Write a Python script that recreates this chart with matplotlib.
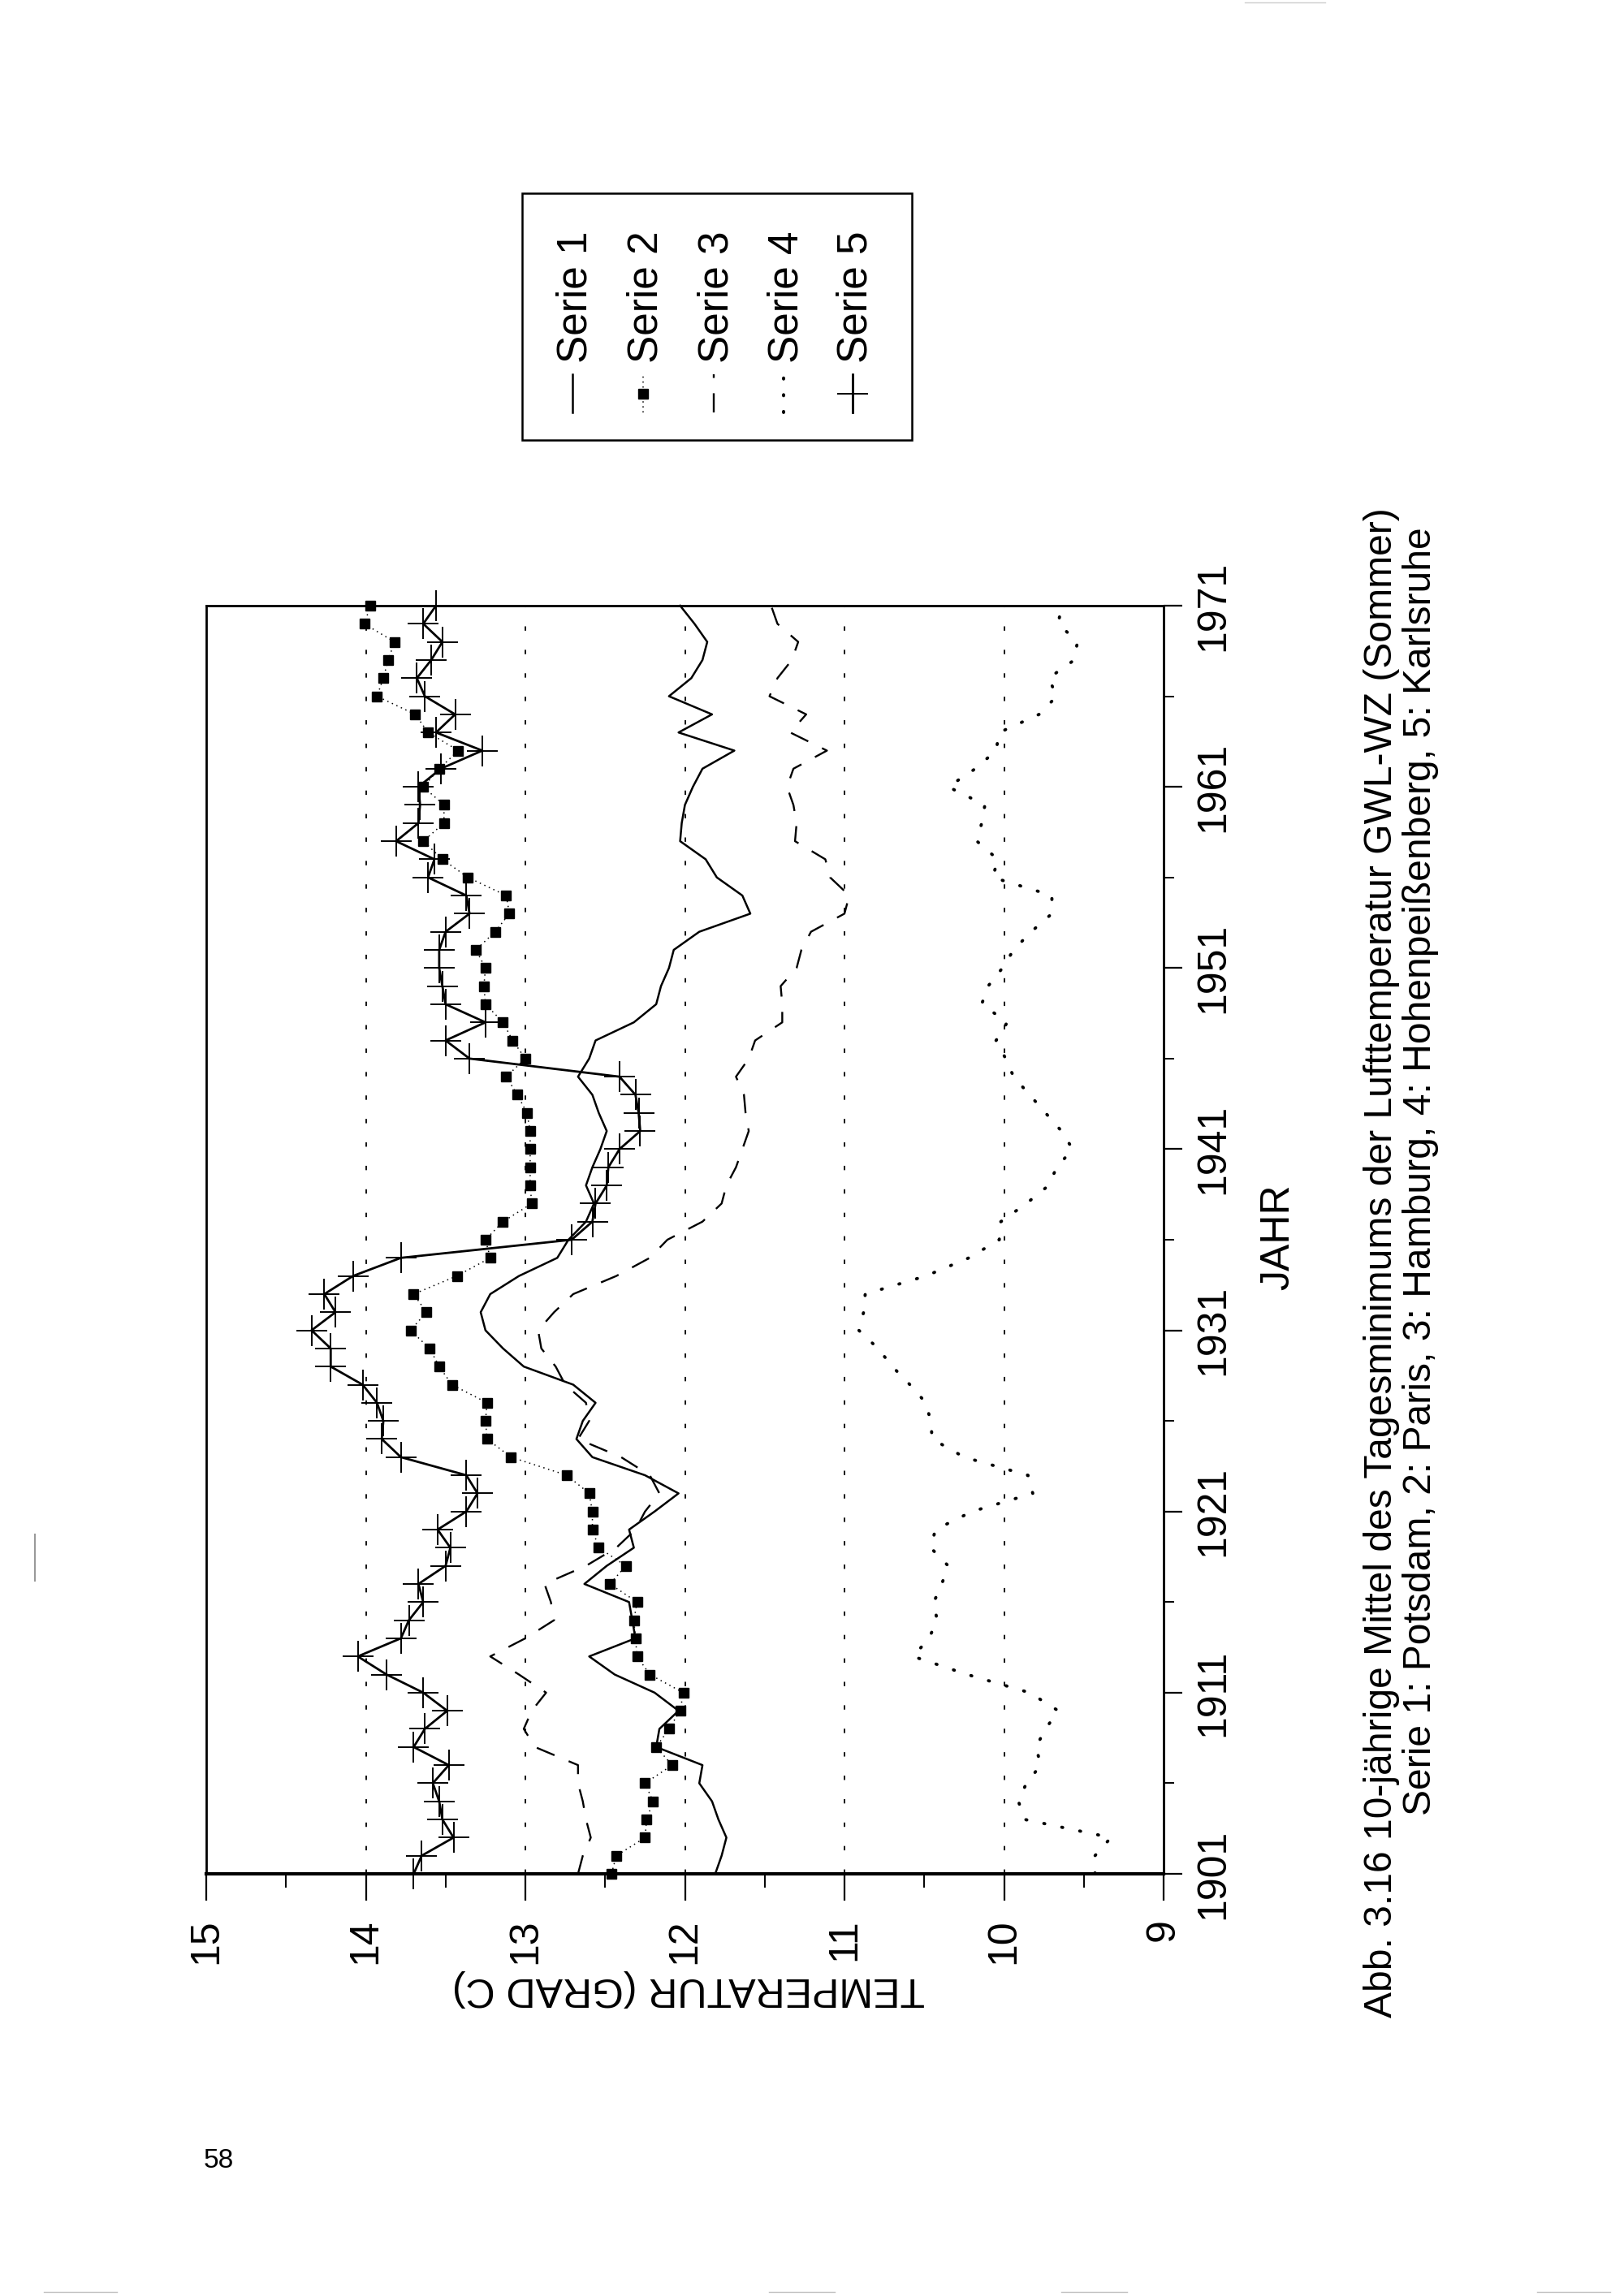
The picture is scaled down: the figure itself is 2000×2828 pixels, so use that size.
import matplotlib
matplotlib.use('Agg')
import matplotlib.pyplot as plt
import numpy as np
from matplotlib.lines import Line2D
from matplotlib.patches import Rectangle

# 10-year means of daily minimum air temperature, summer, 1901-1971
years = list(range(1901, 1972))

potsdam = [11.81, 11.77, 11.74, 11.79, 11.83, 11.91, 11.89, 12.18, 12.16, 12.04,
           12.19, 12.44, 12.60, 12.31, 12.33, 12.35, 12.63, 12.49, 12.32, 12.35,
           12.19, 12.04, 12.25, 12.58, 12.68, 12.64, 12.56, 12.70, 13.01, 13.14,
           13.25, 13.28, 13.22, 13.04, 12.80, 12.73, 12.62, 12.57, 12.62, 12.58,
           12.53, 12.49, 12.54, 12.58, 12.67, 12.60, 12.56, 12.32, 12.18, 12.15,
           12.10, 12.07, 11.91, 11.59, 11.64, 11.80, 11.87, 12.03, 12.02, 12.00,
           11.95, 11.89, 11.69, 12.04, 11.83, 12.10, 11.96, 11.89, 11.86, 11.94, 12.03]

paris = [12.46, 12.43, 12.25, 12.24, 12.20, 12.25, 12.08, 12.18, 12.10, 12.03,
         12.01, 12.22, 12.30, 12.31, 12.32, 12.30, 12.47, 12.37, 12.54, 12.58,
         12.58, 12.60, 12.74, 13.09, 13.24, 13.25, 13.24, 13.46, 13.54, 13.60,
         13.72, 13.62, 13.70, 13.43, 13.22, 13.25, 13.14, 12.96, 12.97, 12.97,
         12.97, 12.97, 12.99, 13.05, 13.12, 13.00, 13.08, 13.14, 13.25, 13.26,
         13.25, 13.31, 13.19, 13.10, 13.12, 13.36, 13.52, 13.64, 13.51, 13.51,
         13.64, 13.54, 13.42, 13.61, 13.69, 13.93, 13.89, 13.86, 13.82, 14.01, 13.97]

hamburg = [12.67, 12.64, 12.59, 12.62, 12.64, 12.67, 12.67, 12.94, 13.01, 12.96,
           12.87, 13.04, 13.22, 13.00, 12.82, 12.84, 12.88, 12.62, 12.43, 12.31,
           12.25, 12.16, 12.22, 12.40, 12.67, 12.60, 12.62, 12.75, 12.81, 12.90,
           12.92, 12.82, 12.70, 12.43, 12.22, 12.11, 11.89, 11.77, 11.74, 11.68,
           11.64, 11.60, 11.62, 11.63, 11.68, 11.60, 11.56, 11.39, 11.39, 11.40,
           11.30, 11.27, 11.21, 11.00, 10.97, 11.09, 11.12, 11.31, 11.30, 11.32,
           11.36, 11.32, 11.11, 11.34, 11.24, 11.47, 11.42, 11.33, 11.29, 11.42, 11.46]

hohenpeissenberg = [9.43, 9.43, 9.33, 9.87, 9.91, 9.86, 9.77, 9.80, 9.74, 9.66,
                    9.84, 10.23, 10.57, 10.47, 10.42, 10.44, 10.39, 10.35, 10.46, 10.43,
                    10.20, 9.82, 9.85, 10.25, 10.45, 10.46, 10.49, 10.59, 10.70, 10.79,
                    10.91, 10.88, 10.87, 10.49, 10.22, 10.03, 10.02, 9.86, 9.72, 9.67,
                    9.57, 9.64, 9.74, 9.84, 9.94, 9.99, 10.05, 9.98, 10.14, 10.10,
                    10.01, 9.94, 9.83, 9.70, 9.70, 10.07, 10.04, 10.17, 10.14, 10.12,
                    10.35, 10.18, 10.05, 10.03, 9.78, 9.67, 9.72, 9.56, 9.54, 9.66, 9.64]

karlsruhe = [13.70, 13.65, 13.45, 13.52, 13.54, 13.58, 13.48, 13.70, 13.63, 13.49,
             13.64, 13.87, 14.05, 13.78, 13.73, 13.64, 13.67, 13.50, 13.47, 13.55,
             13.37, 13.30, 13.37, 13.78, 13.90, 13.89, 13.93, 14.02, 14.22, 14.22,
             14.34, 14.19, 14.26, 14.08, 13.78, 12.71, 12.58, 12.56, 12.49, 12.48,
             12.41, 12.28, 12.29, 12.31, 12.41, 13.35, 13.50, 13.25, 13.50, 13.52,
             13.54, 13.54, 13.50, 13.35, 13.37, 13.61, 13.57, 13.81, 13.67, 13.66,
             13.67, 13.53, 13.27, 13.56, 13.44, 13.63, 13.68, 13.59, 13.52, 13.64, 13.56]

temp_ticks = [15, 14, 13, 12, 11, 10, 9]
year_ticks = [1901, 1911, 1921, 1931, 1941, 1951, 1961, 1971]
legend_labels = ['Serie 1', 'Serie 2', 'Serie 3', 'Serie 4', 'Serie 5']
x_label = 'TEMPERATUR (GRAD C)'
y_label = 'JAHR'
caption_1 = 'Abb. 3.16 10-jährige Mittel des Tagesminimums der Lufttemperatur GWL-WZ (Sommer)'
caption_2 = 'Serie 1: Potsdam, 2: Paris, 3: Hamburg, 4: Hohenpeißenberg, 5: Karlsruhe'
page_number = '58'

W, H = 2000, 2828
plt.rcParams['font.family'] = ['Liberation Sans', 'DejaVu Sans']


def fx(x):
    return x / W


def fy(y):
    return 1 - y / H


# line styles of the five series
styles = [
    dict(color='k', lw=1.8, ls='-'),
    dict(color='k', lw=1.1, ls=(0, (1, 3)), marker='s', ms=8.5, mec='k', mfc='k'),
    dict(color='k', lw=1.7, ls=(0, (10, 8))),
    dict(color='k', lw=2.8, ls=(0, (0.3, 5.5)), dash_capstyle='round'),
    dict(color='k', lw=2.0, ls='-', marker='+', ms=28, mew=1.4),
]
series = [potsdam, paris, hamburg, hohenpeissenberg, karlsruhe]

fig = plt.figure(figsize=(20, 28.28), dpi=100)
fig.patch.set_facecolor('white')

# page is printed rotated: temperature runs along x (reversed), years along y
ax = fig.add_axes([fx(254), fy(2308), (1433 - 254) / W, (2308 - 746) / H])
for values, st in zip(series, styles):
    ax.plot(values, years, clip_on=False, **st)

ax.set_xlim(15, 9)
ax.set_ylim(1901, 1971)
ax.grid(axis='x', which='major', color='k', lw=1.3, ls=(0, (3, 13)))

ax.set_xticks(temp_ticks)
ax.set_xticklabels([str(t) for t in temp_ticks])
ax.set_xticks(np.arange(9.5, 15, 1.0), minor=True)
ax.yaxis.tick_right()
ax.set_yticks(year_ticks)
ax.set_yticklabels([str(y) for y in year_ticks])
ax.set_yticks(range(1906, 1967, 10), minor=True)

ax.tick_params(axis='x', which='major', direction='out', length=24, width=1.6, pad=16, labelsize=36)
ax.tick_params(axis='x', which='minor', direction='out', length=12, width=1.4)
ax.tick_params(axis='y', which='major', direction='out', length=16.5, width=1.6, pad=11,
               labelsize=36, right=True, left=False)
ax.tick_params(axis='y', which='minor', direction='out', length=9.5, width=1.4, right=True, left=False)
for lab in ax.get_xticklabels():
    lab.set_rotation(90)
    lab.set_ha('center')
    lab.set_va('top')
for lab in ax.get_yticklabels():
    lab.set_rotation(90)
    lab.set_ha('left')
    lab.set_va('center')

for side in ['left', 'right', 'top']:
    ax.spines[side].set_linewidth(2.0)
ax.spines['bottom'].set_linewidth(3.0)

# axis titles and caption
fig.text(fx(848), fy(2449), x_label, rotation=180, ha='center', va='center', fontsize=36)
fig.text(fx(1574), fy(1524), y_label, rotation=90, ha='center', va='center', fontsize=36)
fig.text(fx(1702), fy(2485), caption_1, rotation=90, ha='center', va='bottom', fontsize=34.6)
fig.text(fx(1749), fy(2236), caption_2, rotation=90, ha='center', va='bottom', fontsize=34.6)
fig.text(fx(269), fy(2661), page_number, ha='center', va='center', fontsize=24)

# legend, drawn rotated like the rest of the page
fig.add_artist(Rectangle((fx(643), fy(542)), (1123 - 643) / W, (542 - 238) / H,
                         fill=False, lw=1.8, ec='k', transform=fig.transFigure))
entry_x = [709, 796, 883, 969, 1054]
for i, (x, label, st) in enumerate(zip(entry_x, legend_labels, styles)):
    fig.text(fx(x), fy(447), label, rotation=90, ha='center', va='bottom', fontsize=37)
    sample = dict(st)
    if 'marker' in sample:
        sample['markevery'] = [1]
        if sample['marker'] == '+':
            sample['ms'] = 27
    if i == 3:
        sample['ls'] = (0, (0.3, 5.0))
    fig.add_artist(Line2D([fx(x - 4)] * 3, [fy(508), fy(485), fy(461)],
                          transform=fig.transFigure, **sample))

# scan marks at the page edges
fig.add_artist(Line2D([fx(43), fx(43)], [fy(1890), fy(1947)], color='0.6', lw=1.5,
                      transform=fig.transFigure))
for x0, x1 in [(54, 144), (947, 1028), (1307, 1388), (1893, 1983)]:
    fig.add_artist(Line2D([fx(x0), fx(x1)], [fy(2823), fy(2823)], color='0.75', lw=1,
                          transform=fig.transFigure))
fig.add_artist(Line2D([fx(1533), fx(1632)], [fy(3), fy(3)], color='0.8', lw=1,
                      transform=fig.transFigure))

fig.savefig('out.png', dpi=100, facecolor='white')
